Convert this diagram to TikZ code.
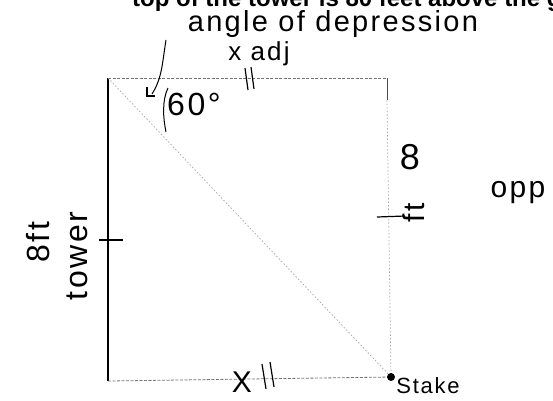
\documentclass[tikz,border=0pt]{standalone}
\usepackage{fontspec}
\setmainfont{Liberation Sans}
\newfontfamily\hand[LetterSpace=8]{Liberation Sans}
\usetikzlibrary{arrows.meta}
\begin{document}
\begin{tikzpicture}[x=1pt,y=-1pt,
  hw/.style={font=\hand\fontsize{28}{28}\selectfont, inner sep=0pt},
  pen/.style={line width=1.2pt, black},
  faint/.style={line width=0.8pt, black!55, dash pattern=on 3pt off 1.5pt},
  fainter/.style={line width=0.7pt, black!35, dash pattern=on 1.5pt off 2pt}]
\useasboundingbox (0,0) rectangle (553,400);
\begin{scope}
\clip (0,0) rectangle (553,400);
\node[anchor=base west, inner sep=0pt, font=\bfseries\fontsize{24}{24}\selectfont] (title) at (132,6) {top of the tower is 80 feet above the ground};
\end{scope}
% corners
\coordinate (tl) at (108,78);
\coordinate (tr) at (387,78);
\coordinate (bl) at (108,381);
\coordinate (br) at (391,377);
% sides
\draw[pen] (tl) -- (bl);
\draw[faint] (tl) -- (tr);
\draw[faint] (bl) -- (br);
\draw[line width=0.8pt, black!70] (tr) -- (387,100);
\draw[fainter] (387,100) -- (br);
\draw[fainter] (tl) -- (br);
\fill (br) circle (4);
% ticks
\draw[pen] (99,240) -- (123,240);
\draw[pen] (377,217) -- (405,216);
\draw[pen] (245,68) -- (248,90);
\draw[pen] (251,67) -- (254,89);
\draw[pen] (262,364) -- (266,389);
\draw[pen] (270,362) -- (274,387);
% labels
\node[hw, font=\hand\fontsize{29}{29}\selectfont] (angle) at (333,24) {angle of depression};
\node[hw, font=\hand\fontsize{26}{26}\selectfont] (xadj) at (259,54) {x adj};
\node[hw, font=\hand\fontsize{32}{32}\selectfont] (sixty) at (194,104) {60°};
\draw[line width=1pt] (166,40) .. controls (162,65) and (162,78) .. (152,94);
\draw[line width=1.2pt] (147,87) -- (147,96) -- (155,96);
\draw[line width=1pt] (168,88) .. controls (162,100) and (163,118) .. (166,132);
\node[hw, font=\hand\fontsize{32}{32}\selectfont, rotate=90] (eightft) at (38,242) {8ft};
\node[hw, font=\hand\fontsize{32}{32}\selectfont, rotate=90] (tower) at (77,256) {tower};
\node[hw, font=\hand\fontsize{36}{36}\selectfont] (eight) at (410,157) {8};
\node[hw, font=\hand\fontsize{30}{30}\selectfont, rotate=90] (ft) at (414,213) {ft};
\node[hw, font=\hand\fontsize{30}{30}\selectfont] (opp) at (518,193) {opp};
\node[hw, font=\hand\fontsize{30}{30}\selectfont] (xlabel) at (242,382) {X};
\node[hw, font=\hand\fontsize{22}{22}\selectfont] (stake) at (428,386) {Stake};
\end{tikzpicture}
\end{document}
